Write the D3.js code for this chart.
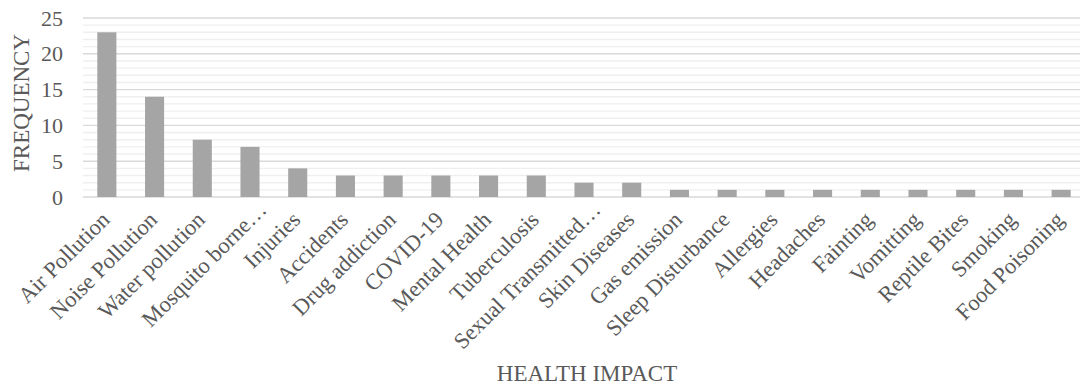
<!DOCTYPE html>
<html>
<head>
<meta charset="utf-8">
<script src="https://cdn.jsdelivr.net/npm/d3@7"></script>
<style>
  html, body { margin: 0; padding: 0; background: #fff; }
  svg { display: block; }
  text { font-family: "Liberation Serif", "Times New Roman", serif; fill: #595959; }
</style>
</head>
<body>
<svg id="chart" width="1080" height="385"></svg>
<script>
const categories = ["Air Pollution", "Noise Pollution", "Water pollution", "Mosquito borne…", "Injuries", "Accidents", "Drug addiction", "COVID-19", "Mental Health", "Tuberculosis", "Sexual Transmitted…", "Skin Diseases", "Gas emission", "Sleep Disturbance", "Allergies", "Headaches", "Fainting", "Vomitting", "Reptile Bites", "Smoking", "Food Poisoning"];
const frequency = [23, 14, 8, 7, 4, 3, 3, 3, 3, 3, 2, 2, 1, 1, 1, 1, 1, 1, 1, 1, 1];
const yTicks = [0, 5, 10, 15, 20, 25];
const minorTicks = d3.range(0, 26, 1);
const xTitle = "HEALTH IMPACT";
const yTitle = "FREQUENCY";

const svg = d3.select("#chart");
const x = d3.scaleBand().domain(categories).range([83, 1085]).paddingInner(0.6).paddingOuter(0.3);
const y = d3.scaleLinear().domain([0, 25]).range([197, 18]);

// minor gridlines
svg.append("g").selectAll("line").data(minorTicks.filter(d => d % 5 !== 0)).join("line")
  .attr("x1", 83).attr("x2", 1080)
  .attr("y1", d => y(d)).attr("y2", d => y(d))
  .attr("stroke", "#efefef").attr("stroke-width", 1.4);
// major gridlines
svg.append("g").selectAll("line").data(yTicks).join("line")
  .attr("x1", 83).attr("x2", 1080)
  .attr("y1", d => y(d)).attr("y2", d => y(d))
  .attr("stroke", "#d9d9d9").attr("stroke-width", 1.4);

// bars
svg.append("g").selectAll("rect").data(frequency).join("rect")
  .attr("x", (d, i) => x(categories[i]))
  .attr("width", x.bandwidth())
  .attr("y", d => y(d))
  .attr("height", d => y(0) - y(d))
  .attr("fill", "#a5a5a5");

// y axis
const yAxis = d3.axisLeft(y).tickValues(yTicks).tickSize(0).tickPadding(0);
const gy = svg.append("g").attr("transform", "translate(63,0)").call(yAxis);
gy.select(".domain").remove();
gy.selectAll("text").attr("x", 0).style("font-size", "22px").style("font-family", "Liberation Serif")
  .attr("fill", "#595959");

// x axis
const xAxis = d3.axisBottom(x).tickSize(0).tickPadding(0);
const gx = svg.append("g").call(xAxis);
gx.select(".domain").remove();
gx.selectAll(".tick").attr("transform", d => `translate(${x(d) + x.bandwidth() / 2},0)`);
gx.selectAll("text")
  .style("font-size", "22.5px").style("font-family", "Liberation Serif").attr("fill", "#595959")
  .attr("text-anchor", "end")
  .attr("x", 0).attr("y", 0).attr("dy", 0)
  .attr("dx", d => d.endsWith("…") ? 14 : 0)
  .attr("transform", d => `translate(${d.endsWith("…") ? 8 : 4},221) rotate(-45)`);

// titles
svg.append("text").attr("x", 587).attr("y", 381).attr("text-anchor", "middle")
  .style("font-size", "23px").text(xTitle);
svg.append("text").attr("transform", "translate(29,103) rotate(-90)").attr("text-anchor", "middle")
  .style("font-size", "23px").text(yTitle);
</script>
</body>
</html>
